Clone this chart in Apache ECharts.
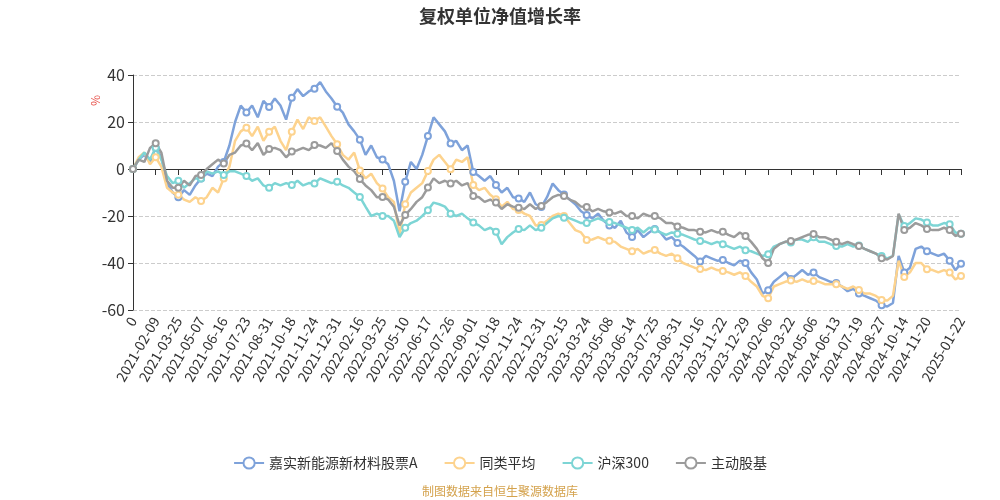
<!DOCTYPE html>
<html>
<head>
<meta charset="utf-8">
<script src="https://cdn.jsdelivr.net/npm/echarts@6/dist/echarts.min.js"></script>
<style>
  html, body { margin: 0; padding: 0; background: #fff; }
</style>
</head>
<body>
<div id="main" style="width: 1000px;height:500px;"></div>
<script>
// 刻度标签（每4个点一个刻度，最后一个在末尾）
var tickLabels = ['0', '2021-02-09', '2021-03-25', '2021-05-07', '2021-06-16', '2021-07-23', '2021-08-31',
    '2021-10-18', '2021-11-24', '2021-12-31', '2022-02-16', '2022-03-25', '2022-05-10', '2022-06-17',
    '2022-07-26', '2022-09-01', '2022-10-18', '2022-11-24', '2022-12-31', '2023-02-15', '2023-03-24',
    '2023-05-08', '2023-06-14', '2023-07-25', '2023-08-31', '2023-10-16', '2023-11-22', '2023-12-29',
    '2024-02-06', '2024-03-22', '2024-05-06', '2024-06-13', '2024-07-19', '2024-08-27', '2024-10-14',
    '2024-11-20', '2025-01-22'];

var fundA = [0, 4, 6, 3, 9, 5, -6, -10, -12, -9, -11, -7, -4, -2, -3, 1,
    3, 10, 20, 27, 24, 27, 22, 29, 26.4, 30, 27, 21, 30.3, 34, 31, 33,
    34.2, 37, 33, 30, 26.5, 24, 19, 16, 12.5, 6, 10, 5, 4, 2, -5, -18,
    -5.4, 3, 0, 6, 14, 22, 19, 16, 10.8, 12, 8, 10, -1.3, -3, -5, -3,
    -6.8, -10, -8, -12, -12.5, -14, -10, -15, -16.2, -12, -6.2, -9, -10.8, -13, -15, -18,
    -19.6, -21, -19, -22, -24, -25, -22, -27, -28.9, -26, -29, -27, -25.5, -27, -30, -29,
    -31.5, -33, -35, -37, -39.4, -37, -38, -39, -38.7, -40, -41, -39, -40, -44, -47, -53,
    -51.6, -48, -46, -44, -46.8, -45, -43, -45, -44, -46, -47, -48, -48.5, -50, -52, -51,
    -53, -54, -55, -56, -58, -58.5, -57, -37, -44, -42, -34, -33, -35, -36, -37, -36,
    -39, -43, -40.3];

var peerAvg = [0, 5, 7, 2, 5, 1, -8, -10, -11, -13, -14, -12, -13.6, -12, -8, -10,
    -4, 1, 12, 16, 17.6, 14, 18, 12, 15.9, 18, 12, 8, 15.9, 21, 17, 22,
    20.4, 22, 18, 14, 10.5, 6, 4, 7, -0.6, -4, -2, -6, -8.3, -12, -14, -28,
    -15, -10, -8, -6, -0.9, 4, 6, 3, -0.1, 4, 3, 5, -6.8, -9, -8, -11,
    -12.9, -16, -14, -17, -17.4, -19, -20, -24, -23.8, -22, -20, -19, -20, -23, -26, -27,
    -30.2, -30, -29, -30, -30.5, -31, -33, -34, -35, -34, -36, -35, -34.5, -36, -37, -36,
    -38, -40, -41, -42, -42.6, -43, -42, -43, -43.4, -44, -45, -44, -45.5, -48, -50, -54,
    -55, -50, -49, -48, -47.4, -48, -47, -48, -47.7, -48, -49, -49, -49, -50, -51, -50,
    -51.5, -53, -53, -54, -55.7, -56, -54, -39, -46, -44, -40, -40, -42.7, -43, -44, -43,
    -44, -47, -45.5];

var hs300 = [0, 4, 7, 4, 9, 4, -3, -6, -5, -8, -6, -4, -4, -1, -2, -1,
    -2.5, -1, -1, -2, -3, -5, -4, -7, -8, -6, -7, -6, -6.8, -5, -7, -6,
    -6.2, -4, -5, -6, -5.4, -7, -8, -10, -11.9, -16, -20, -19, -20, -20, -22, -29,
    -25, -23, -22, -20, -17.6, -14.3, -15, -16, -19, -20, -19, -21, -22.8, -24, -26, -25,
    -26.7, -32, -29, -27, -25.5, -26, -24, -26, -25, -23, -21, -20, -20.7, -21, -22, -23,
    -23, -22, -21, -22, -22.5, -23, -24, -25, -26, -25, -27, -25, -25.7, -27, -28, -27,
    -27.5, -28, -29, -30, -30.6, -31, -32, -31, -32, -33, -34, -33, -34.6, -35, -36, -37,
    -36.3, -33, -32, -31, -31.3, -30, -30, -31, -29, -31, -31, -32, -32.8, -33, -32, -33,
    -32.5, -34, -35, -36, -37, -38, -37, -19.3, -24.3, -23, -21, -21.5, -22.8, -24, -24, -23,
    -23.5, -27, -27.5];

var activeFund = [0, 4, 3, 9, 11, 7, -5, -8, -8, -5, -7, -3, -2.5, 0, 2, 4,
    2.3, 6, 7, 10, 10.8, 8, 11, 6, 8.5, 9, 8, 5, 7.4, 8, 9, 8,
    10.2, 10, 9, 11, 7.7, 4, 1, -1, -4.3, -7, -9, -12, -11.9, -13, -16, -24,
    -19.6, -17, -14, -12, -7.9, -4, -6, -5, -6.2, -5, -7, -6, -11.5, -12, -14, -13,
    -14.3, -17, -15, -16, -16.5, -17, -15, -17, -15.7, -14, -12, -11, -11.5, -13, -14, -16,
    -16.2, -18, -17, -18, -18.5, -19, -18, -20, -20, -21, -19, -20, -20, -21, -23, -23,
    -24.5, -25, -26, -26, -26.7, -27, -26, -27, -26.7, -28, -29, -27, -28.5, -31, -34, -38,
    -40, -34, -32, -31, -30.6, -30, -29, -28, -27.7, -29, -29, -30, -31, -32, -31, -32,
    -32.8, -34, -35, -36, -38, -38.5, -37, -19, -26, -25, -23, -24, -25.5, -26, -26, -25,
    -26, -28.5, -27.5];

var seriesNames = ['嘉实新能源新材料股票A', '同类平均', '沪深300', '主动股基'];
var seriesColors = ['#7ea2da', '#fdd38e', '#7dd5d5', '#9b9b9b'];
var seriesData = [fundA, peerAvg, hs300, activeFund];

var STEP = 4;
var N = fundA.length;
var lastIdx = N - 1;

// 类目：刻度处放日期，其余为空
var categories = [];
for (var i = 0; i < N; i++) categories.push('');
for (var k = 0; k < tickLabels.length - 1; k++) categories[k * STEP] = tickLabels[k];
categories[lastIdx] = tickLabels[tickLabels.length - 1];

function isTick(idx) {
    return idx % STEP === 0 || idx === lastIdx;
}

var font = '"Noto Sans CJK SC", "Noto Sans", sans-serif';

var myChart = echarts.init(document.getElementById('main'));
var option = {
    animation: false,
    textStyle: { fontFamily: font },
    title: {
        text: '复权单位净值增长率',
        left: 'center',
        top: 2,
        textStyle: { fontSize: 18, fontWeight: 'bold', color: '#333', fontFamily: font }
    },
    graphic: [{
        type: 'text',
        x: 89,
        y: 106,
        rotation: Math.PI / 2,
        style: { text: '%', fill: '#e8554e', fontSize: 12, fontFamily: font }
    }, {
        type: 'text',
        left: 'center',
        top: 485,
        style: { text: '制图数据来自恒生聚源数据库', fill: '#d4a24c', fontSize: 12, fontFamily: font }
    }],
    legend: {
        top: 451,
        left: 'center',
        itemWidth: 30,
        itemHeight: 14,
        itemGap: 26,
        textStyle: { fontSize: 14, color: '#333', fontFamily: font },
        data: seriesNames
    },
    grid: {
        left: 133,
        right: 39,
        top: 75,
        bottom: 190,
        containLabel: false
    },
    xAxis: [{
        type: 'category',
        data: categories,
        boundaryGap: false,
        position: 'bottom',
        axisLine: { show: true, onZero: true, lineStyle: { color: '#333', width: 1 } },
        axisTick: { show: true, length: 6, interval: function (idx) { return isTick(idx); }, lineStyle: { color: '#333' } },
        axisLabel: { show: false },
        splitLine: { show: false }
    }, {
        type: 'category',
        data: categories,
        boundaryGap: false,
        position: 'bottom',
        axisLine: { show: false, onZero: false },
        axisTick: { show: false },
        axisLabel: {
            show: true,
            rotate: 60,
            margin: 8,
            fontSize: 14,
            color: '#333',
            fontFamily: font,
            hideOverlap: false,
            interval: function (idx, val) { return val !== ''; }
        },
        splitLine: { show: false }
    }],
    yAxis: {
        type: 'value',
        min: -60,
        max: 40,
        interval: 20,
        axisLine: { show: true, lineStyle: { color: '#333' } },
        axisTick: { show: true, length: 5, lineStyle: { color: '#333' } },
        axisLabel: { fontSize: 16, color: '#333', fontFamily: font },
        splitLine: { show: true, lineStyle: { type: 'dashed', color: '#ccc' } }
    },
    series: seriesData.map(function (arr, s) {
        return {
            name: seriesNames[s],
            type: 'line',
            xAxisIndex: 0,
            symbol: 'emptyCircle',
            symbolSize: 6,
            showSymbol: true,
            showAllSymbol: true,
            color: seriesColors[s],
            itemStyle: { color: seriesColors[s], borderWidth: 1.2 },
            lineStyle: { width: 2.5, color: seriesColors[s] },
            data: arr.map(function (v, idx) {
                return isTick(idx) ? v : { value: v, symbol: 'none' };
            })
        };
    })
};
myChart.setOption(option);
</script>
</body>
</html>
